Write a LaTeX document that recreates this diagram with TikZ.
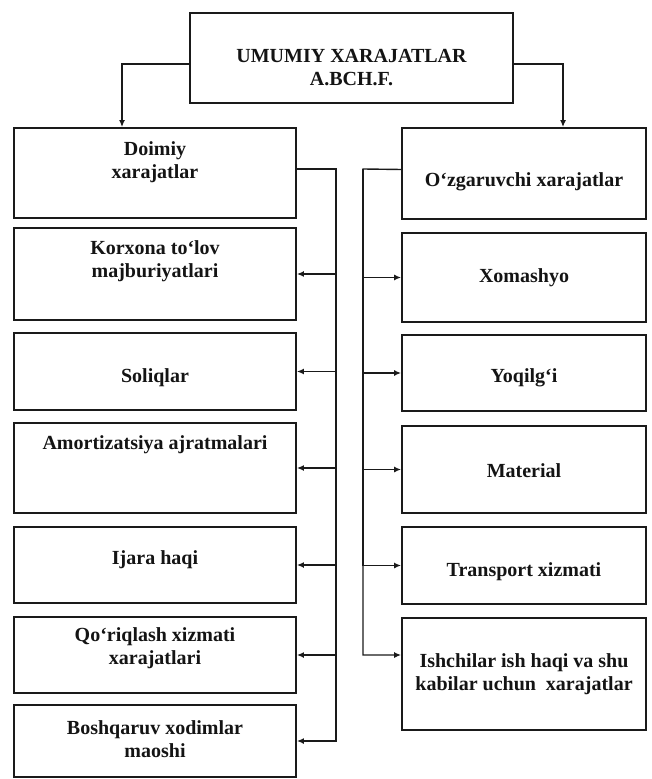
\documentclass[tikz,border=0pt]{standalone}
\usepackage{fontspec}
\setmainfont{Liberation Serif}
\usepackage{tikz}
\usetikzlibrary{arrows.meta,positioning}
\definecolor{xline}{HTML}{1A1A1A}
\definecolor{xtext}{HTML}{141414}
\tikzset{
  cbox/.style={draw=xline,line width=0.9pt,fill=white,inner sep=0pt},
  lbox/.style={cbox,minimum width=141pt},
  rbox/.style={cbox,minimum width=122pt},
  ctext/.style={font=\bfseries\fontsize{10}{11.5}\selectfont,text=xtext,align=center,inner sep=0pt},
  link/.style={draw=xline,line width=0.7pt},
  flow/.style={link,-{Latex[length=3.5pt,width=3pt]}}
}

\begin{document}
\begin{tikzpicture}[x=0.5pt,y=-0.5pt]
  \useasboundingbox (0,0) rectangle (651,779);
  % top
  \node[cbox,minimum width=161.5pt,minimum height=45pt] (umum) at (351.5,58) {};
  \node[ctext] (umumT) at ([yshift=-5pt]umum.center) {UMUMIY XARAJATLAR\\A.BCH.F.};
  % left column
  \node[lbox,minimum height=45pt] (doim) at (155,173) {};
  \node[lbox,minimum height=46pt] (korx) at (155,274) {};
  \node[lbox,minimum height=38.5pt] (soliq) at (155,371.5) {};
  \node[lbox,minimum height=45pt] (amort) at (155,468) {};
  \node[lbox,minimum height=38pt] (ijara) at (155,565) {};
  \node[lbox,minimum height=38pt] (qor) at (155,655) {};
  \node[lbox,minimum height=36pt] (bosh) at (155,741) {};
  \node[ctext] (doimT) at ([yshift=5.5pt]doim.center) {Doimiy\\xarajatlar};
  \node[ctext] (korxT) at ([yshift=6.5pt]korx.center) {Korxona to‘lov\\majburiyatlari};
  \node[ctext] (soliqT) at ([yshift=-3pt]soliq.center) {Soliqlar};
  \node[ctext] (amortT) at ([yshift=11.5pt]amort.center) {Amortizatsiya ajratmalari};
  \node[ctext] (ijaraT) at ([yshift=2.5pt]ijara.center) {Ijara haqi};
  \node[ctext] (qorT) at ([yshift=3.5pt]qor.center) {Qo‘riqlash xizmati\\xarajatlari};
  \node[ctext] (boshT) at ([yshift=1pt]bosh.center) {Boshqaruv xodimlar\\maoshi};
  % right column
  \node[rbox,minimum height=45.5pt] (ozg) at (524,173.5) {};
  \node[rbox,minimum height=44.5pt] (xom) at (524,277.5) {};
  \node[rbox,minimum height=38pt] (yoq) at (524,373) {};
  \node[rbox,minimum height=43.5pt] (mat) at (524,469.5) {};
  \node[rbox,minimum height=38.5pt] (trans) at (524,565.5) {};
  \node[rbox,minimum height=56pt] (ishchi) at (524,674) {};
  \node[ctext] (ozgT) at ([yshift=-4pt]ozg.center) {O‘zgaruvchi xarajatlar};
  \node[ctext] (xomT) at (xom.center) {Xomashyo};
  \node[ctext] (yoqT) at ([yshift=-2.5pt]yoq.center) {Yoqilg‘i};
  \node[ctext] (matT) at ([yshift=-0.7pt]mat.center) {Material};
  \node[ctext] (transT) at ([yshift=-3pt]trans.center) {Transport xizmati};
  \node[ctext] (ishchiT) at (ishchi.center) {Ishchilar ish haqi va shu\\kabilar uchun\ \ xarajatlar};
  % connectors
  \draw[flow] ([yshift=-3pt]umum.west) -| ([xshift=-16.5pt]doim.north);
  \draw[flow] ([yshift=-3pt]umum.east) -| ([xshift=19.5pt]ozg.north);
  \coordinate (lspine) at (336,169);
  \coordinate (rspine) at (363,169);
  \draw[flow] ([yshift=2pt]doim.east) -- (lspine) |- (bosh.east);
  \foreach \n in {korx,soliq,amort,ijara,qor}
    \draw[flow] (lspine) |- (\n.east);
  \draw[flow] ([yshift=2pt]ozg.west) -- (rspine) |- ([yshift=9.5pt]ishchi.west);
  \foreach \n in {xom,yoq,mat,trans}
    \draw[flow] (rspine) |- (\n.west);
\end{tikzpicture}
\end{document}
